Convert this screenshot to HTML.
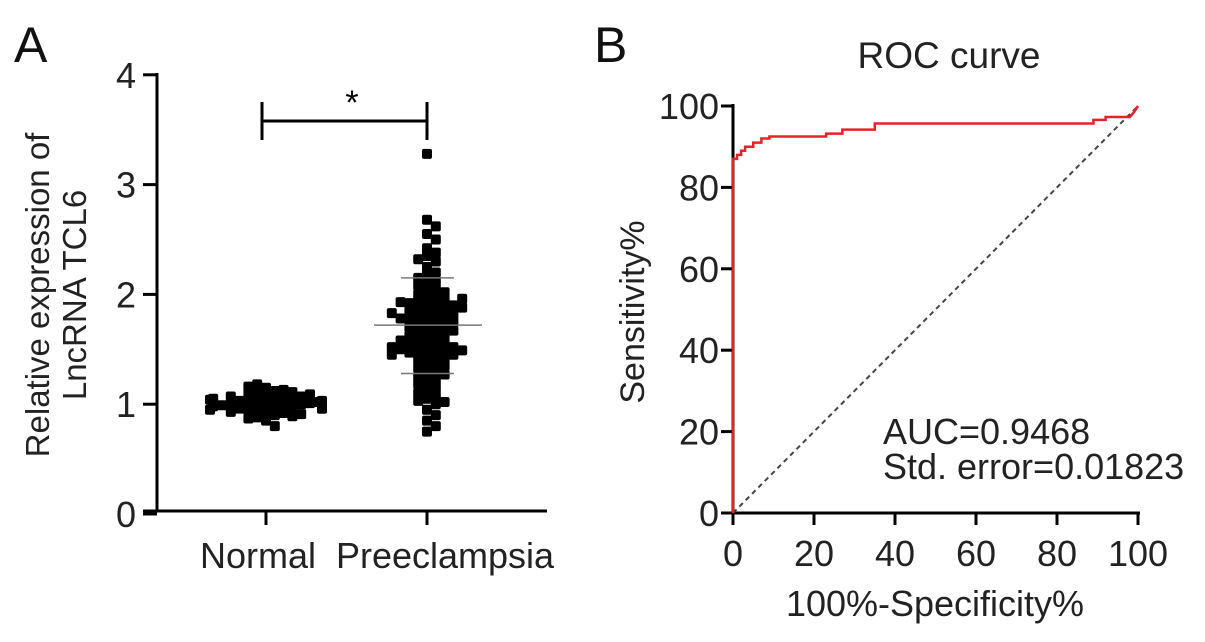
<!DOCTYPE html>
<html><head><meta charset="utf-8"><style>
html,body{margin:0;padding:0;background:#fff;}
svg{display:block;font-family:"Liberation Sans",Arial,sans-serif;}
</style></head><body>
<svg id="fig" width="1205" height="642" viewBox="0 0 1205 642">
<text x="14" y="62" font-size="50" fill="#111">A</text>
<text x="594" y="62" font-size="50" fill="#111">B</text>
<g id="pa"></g>
<g id="pb"></g>
</svg>
<script>
// ---- Panel A data ----
const categories = ["Normal", "Preeclampsia"];
const normalValues = [1.00,0.98,1.02,0.99,1.01,0.97,1.03,1.00,0.96,1.04,1.05,0.95,1.08,0.93,1.10,0.92,1.12,0.90,1.15,0.88,1.18,0.85,1.00,1.01,0.99,1.02,0.98,1.06,0.94,1.07,0.96,1.09,0.91,1.11,0.95,1.03,0.97,1.13,0.87,1.05,0.99,1.00,0.80,1.16,1.04,0.96,1.01,0.98,1.02,1.00,1.07,0.93,1.09,0.89];
const preValues = [3.28,2.68,2.62,2.55,2.50,2.42,2.38,2.35,2.32,2.30,2.25,2.20,2.18,2.15,2.12,2.10,2.08,2.05,2.03,2.00,1.98,1.96,1.95,1.93,1.92,1.90,1.90,1.88,1.87,1.85,1.85,1.83,1.82,1.80,1.80,1.78,1.77,1.75,1.75,1.73,1.72,1.70,1.70,1.68,1.67,1.65,1.64,1.62,1.60,1.58,1.57,1.55,1.55,1.53,1.52,1.51,1.50,1.50,1.49,1.48,1.47,1.46,1.45,1.43,1.42,1.40,1.38,1.36,1.35,1.33,1.30,1.28,1.27,1.25,1.22,1.20,1.18,1.15,1.12,1.10,1.08,1.05,1.03,1.02,1.00,0.95,0.90,0.85,0.80,0.75,1.93,1.88,1.96,2.02,1.58,1.62,1.45,1.52,1.78,1.83];
const yTicksA = [0,1,2,3,4];
const preMean = 1.72, preSdLo = 1.28, preSdHi = 2.15;

// ---- Panel B data ----
const rocFpr =  [0,0,1,1,2,2,3,3,5,5,7,7,9,9,23,23,27,27,35,35,89,89,92,92,98,99,100];
const rocSens = [0,87,87,88,88,89,89,90,90,91,91,92,92,92.5,92.5,93.2,93.2,94.2,94.2,95.7,95.7,96.6,96.6,97.3,97.3,98.5,100];
const ticksB = [0,20,40,60,80,100];

const NS="http://www.w3.org/2000/svg";
function mk(parent,tag,attrs,text){const e=document.createElementNS(NS,tag);for(const k in attrs)e.setAttribute(k,attrs[k]);if(text!==undefined)e.textContent=text;parent.appendChild(e);return e;}
const FS=36;

// Panel A
const pa=document.getElementById('pa');
const yA=v=>514-v*109.8;
const xCat=i=>[266,427][i];
let e;
e=mk(pa,'line',{x1:157,y1:73,x2:157,y2:512,stroke:'#000','stroke-width':3});


e=mk(pa,'line',{x1:143,y1:511,x2:547,y2:511,stroke:'#000','stroke-width':3});


yTicksA.forEach(t=>{
 e=mk(pa,'line',{x1:143,y1:yA(t),x2:157,y2:yA(t),stroke:'#000','stroke-width':3});
 
 
 e=mk(pa,'text',{x:136,y:yA(t)+13,'font-size':FS,'text-anchor':'end',fill:'#222'},String(t));
 
 
});
categories.forEach((c,i)=>{
 e=mk(pa,'line',{x1:xCat(i),y1:511,x2:xCat(i),y2:525,stroke:'#000','stroke-width':3});
 
 
 e=mk(pa,'text',{x:i?445:258,y:568,'font-size':FS,'text-anchor':'middle',fill:'#222'},c);
 
 
});
e=mk(pa,'text',{transform:'translate(49,295) rotate(-90)','font-size':33,'text-anchor':'middle',fill:'#222'},'Relative expression of');


e=mk(pa,'text',{transform:'translate(86,295) rotate(-90)','font-size':33,'text-anchor':'middle',fill:'#222'},'LncRNA TCL6');


e=mk(pa,'path',{d:'M262,102 V140 M262,121 H427 M427,102 V140',stroke:'#000','stroke-width':3,fill:'none'});


e=mk(pa,'text',{x:352,y:114,'font-size':34,'text-anchor':'middle'},'*');


function swarm(vals,cx,spread){
 const placed=[];const s=8;
 vals.forEach(v=>{
  const y=yA(v);let off=0;
  for(let k=0;k<60;k++){
   const cand=(k%2?1:-1)*Math.ceil(k/2)*s*0.55;
   const ok=placed.every(p=>Math.abs(p[0]-(cx+cand))>=s||Math.abs(p[1]-y)>=s*0.85);
   if(ok){off=cand;break;}
  }
  off=Math.max(-spread,Math.min(spread,off));
  placed.push([cx+off,y]);
 });
 return placed;
}
[[normalValues,0,56],[preValues,1,62]].forEach(([vals,i,sp])=>{
 swarm(vals,xCat(i),sp).forEach(p=>{
  e=mk(pa,'rect',{x:p[0]-5,y:p[1]-5,width:10,height:10,rx:2,fill:'#000'});
  
  
 });
});
e=mk(pa,'line',{x1:374,y1:yA(preMean),x2:482,y2:yA(preMean),stroke:'#777','stroke-width':1.5});


[preSdLo,preSdHi].forEach(v=>{
 e=mk(pa,'line',{x1:401,y1:yA(v),x2:454,y2:yA(v),stroke:'#777','stroke-width':1.5});
 
 
});

// Panel B
const pb=document.getElementById('pb');
const xB=v=>733+v*4.05, yB=v=>513-v*4.07;
e=mk(pb,'text',{x:949,y:68,'font-size':37,'text-anchor':'middle',fill:'#222'},'ROC curve');


e=mk(pb,'line',{x1:xB(0),y1:yB(100)-2,x2:xB(0),y2:yB(0)+2,stroke:'#000','stroke-width':3});


e=mk(pb,'line',{x1:xB(0)-2,y1:yB(0),x2:xB(100)+2,y2:yB(0),stroke:'#000','stroke-width':3});


ticksB.forEach(t=>{
 e=mk(pb,'line',{x1:xB(0)-12,y1:yB(t),x2:xB(0),y2:yB(t),stroke:'#000','stroke-width':3});
 
 
 e=mk(pb,'text',{x:xB(0)-14,y:yB(t)+13,'font-size':FS,'text-anchor':'end',fill:'#222'},String(t));
 
 
 e=mk(pb,'line',{x1:xB(t),y1:yB(0),x2:xB(t),y2:yB(0)+12,stroke:'#000','stroke-width':3});
 
 
 e=mk(pb,'text',{x:xB(t),y:566,'font-size':FS,'text-anchor':'middle',fill:'#222'},String(t));
 
 
});
e=mk(pb,'text',{x:935,y:616,'font-size':FS,'text-anchor':'middle',fill:'#222'},'100%-Specificity%');


e=mk(pb,'text',{transform:'translate(644,312) rotate(-90)','font-size':34,'text-anchor':'middle',fill:'#222'},'Sensitivity%');


e=mk(pb,'line',{x1:xB(0),y1:yB(0),x2:xB(100),y2:yB(100),stroke:'#444','stroke-width':2,'stroke-dasharray':'5,4'});


e=mk(pb,'polyline',{points:rocFpr.map((f,i)=>xB(f)+','+yB(rocSens[i])).join(' '),fill:'none',stroke:'#e8202a','stroke-width':2.5});


e=mk(pb,'text',{x:883,y:444,'font-size':36,fill:'#222'},'AUC=0.9468');


e=mk(pb,'text',{x:883,y:479,'font-size':36,fill:'#222'},'Std. error=0.01823');


</script>
</body></html>
